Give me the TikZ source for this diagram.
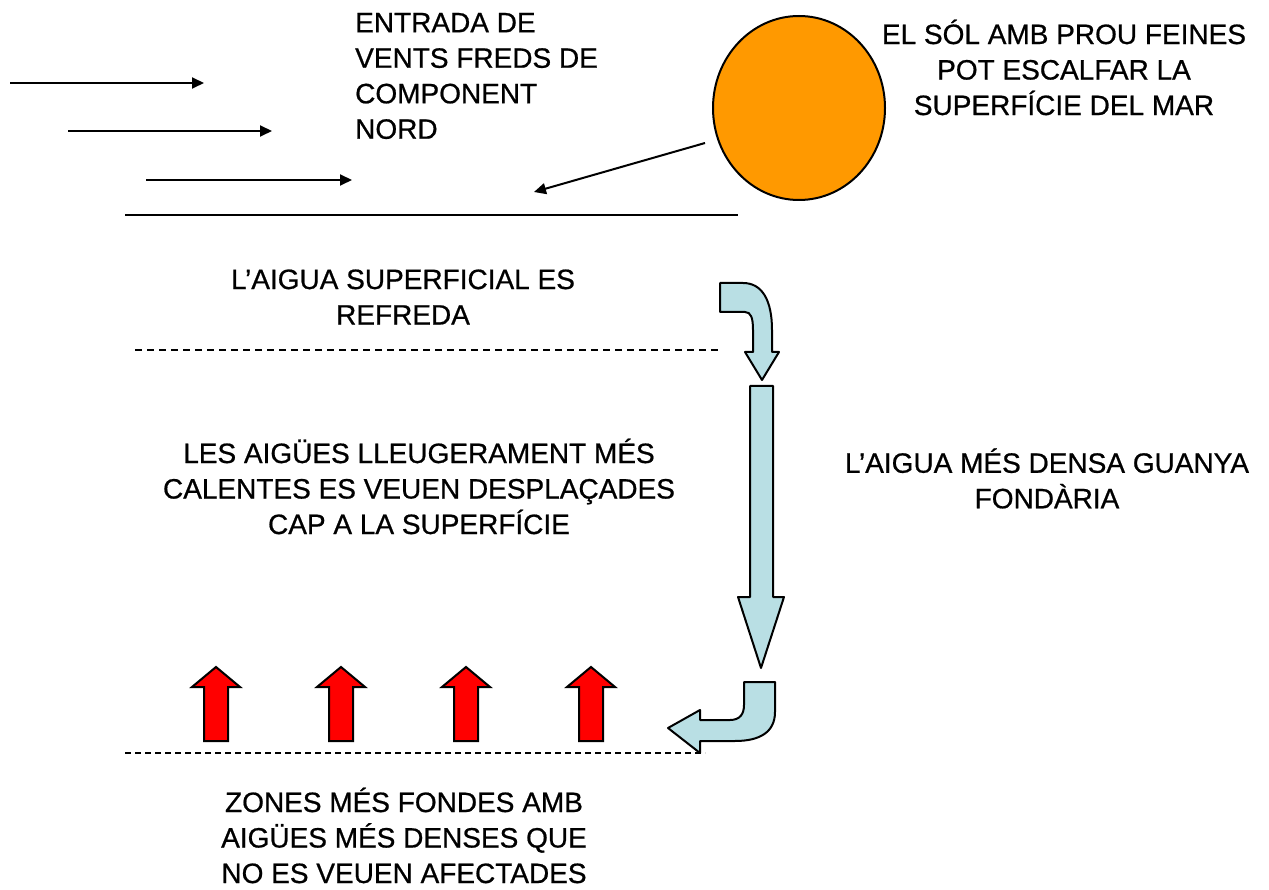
\documentclass[tikz,border=0pt]{standalone}
\usepackage{fontspec}
\setmainfont{Liberation Sans}
\newfontfamily\heavyfont{Liberation Sans}[FakeBold=0.7]
\usetikzlibrary{arrows.meta,shapes.geometric}
\definecolor{sunorange}{RGB}{255,153,0}
\definecolor{lightblue}{RGB}{185,223,228}
\definecolor{hotred}{RGB}{255,0,0}
\tikzset{
  lbl/.style={font=\heavyfont\fontsize{28}{35.5}\selectfont, inner sep=0pt, align=center},
  lblleft/.style={font=\heavyfont\fontsize{28}{35.5}\selectfont, inner sep=0pt, align=left},
  wind/.style={line width=2pt, -{Triangle[length=12pt,width=11pt]}},
  seaLine/.style={line width=2pt},
  dashLine/.style={line width=1.8pt, dash pattern=on 7pt off 5pt},
  blueArrow/.style={draw=black, line width=2pt, fill=lightblue, line join=round},
  redArrow/.style={draw=black, line width=2pt, fill=hotred, line join=miter},
}
\begin{document}
\begin{tikzpicture}[x=1pt,y=-1pt]
\useasboundingbox (0,0) rectangle (1269,890);
% texts
\node[lblleft, anchor=west] (entrada) at (355,76) {ENTRADA DE\\VENTS FREDS DE\\COMPONENT\\NORD};
\node[lbl] (sol) at (1064,67.5) {EL SÓL AMB PROU FEINES\\POT ESCALFAR LA\\SUPERFÍCIE DEL MAR};
\node[lbl] (refreda) at (403,297) {L’AIGUA SUPERFICIAL ES\\REFREDA};
\node[lbl] (calentes) at (419,486.5) {LES AIGÜES LLEUGERAMENT MÉS\\CALENTES ES VEUEN DESPLAÇADES\\CAP A LA SUPERFÍCIE};
\node[lbl] (densa) at (1047,478.5) {L’AIGUA MÉS DENSA GUANYA\\FONDÀRIA};
\node[lbl] (zones) at (404,835.5) {ZONES MÉS FONDES AMB\\AIGÜES MÉS DENSES QUE\\NO ES VEUEN AFECTADES};
% sun
\node[ellipse, draw=black, line width=2pt, fill=sunorange, minimum width=172pt, minimum height=184pt, inner sep=0pt] (sun) at (799,108) {};
% wind arrows
\coordinate (w1s) at (10,83);  \coordinate (w1e) at (204,83);
\coordinate (w2s) at (68,131); \coordinate (w2e) at (272,131);
\coordinate (w3s) at (146,180);\coordinate (w3e) at (352,180);
\draw[wind] (w1s) -- (w1e);
\draw[wind] (w2s) -- (w2e);
\draw[wind] (w3s) -- (w3e);
% sea surface
\coordinate (surfL) at (125,215); \coordinate (surfR) at (738,215);
\draw[seaLine] (surfL) -- (surfR);
% sun ray
\coordinate (rayS) at (705,143); \coordinate (rayE) at (534,192);
\draw[wind] (rayS) -- (rayE);
% dashed lines
\coordinate (d1L) at (135,350); \coordinate (d1R) at (718,350);
\draw[dashLine] (d1L) -- (d1R);
\coordinate (d2L) at (125,753); \coordinate (d2R) at (705,753);
\draw[dashLine, dash pattern=on 6pt off 4pt] (d2L) -- (d2R);
% top bent arrow
\draw[blueArrow] (720,283) -- (743,283) .. controls (762,283) and (772,300) .. (772,330)
  -- (772,352) -- (779,352) -- (762,380) -- (745,352) -- (753,352) -- (753,330)
  .. controls (753,318) and (751,312) .. (745,312) -- (720,312) -- cycle;
% long down arrow
\draw[blueArrow] (750,386) -- (773,386) -- (773,597) -- (784,597) -- (761,668) -- (738,597) -- (750,597) -- cycle;
% bottom bent arrow
\draw[blueArrow] (744,682) -- (775,682) -- (775,712) .. controls (775,732) and (760,741) .. (735,741)
  -- (700,741) -- (700,753) -- (668,728) -- (700,710) -- (700,720) -- (730,720)
  .. controls (740,720) and (744,714) .. (744,705) -- cycle;
% red arrows
\foreach \cx in {216,341,466,591}{
  \draw[redArrow] (\cx-12,741) -- (\cx-12,687) -- (\cx-24,687) -- (\cx,667) -- (\cx+24,687) -- (\cx+12,687) -- (\cx+12,741) -- cycle;
}
\end{tikzpicture}
\end{document}
